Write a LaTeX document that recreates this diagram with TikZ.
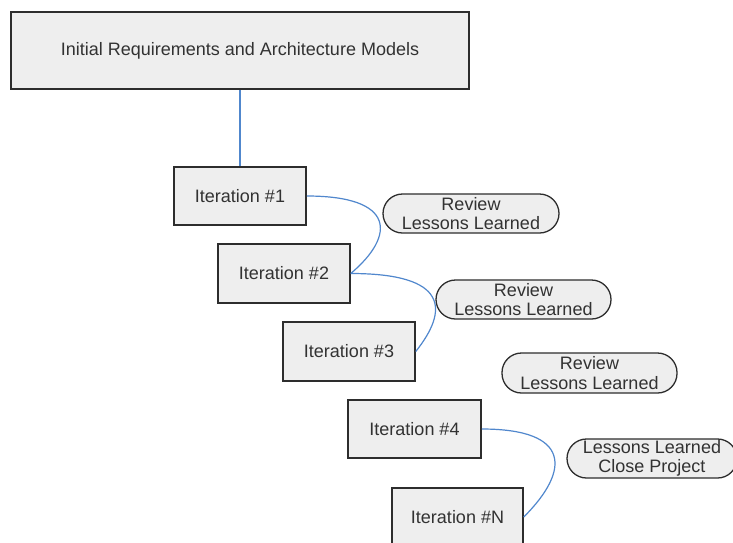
\documentclass[tikz,border=0pt]{standalone}
\usepackage{fontspec}
\setmainfont{Liberation Sans}
\definecolor{boxfill}{RGB}{238,238,238}
\definecolor{boxline}{RGB}{45,45,45}
\definecolor{linkblue}{RGB}{80,135,205}
\definecolor{txt}{RGB}{50,50,50}
\begin{document}
\begin{tikzpicture}[x=1pt,y=-1pt,
  every node/.style={font=\fontsize{18}{19.5}\selectfont, text=txt, inner sep=0pt, align=center},
  iterbox/.style={draw=boxline, fill=boxfill, line width=1.5pt, minimum width=132pt, minimum height=58pt},
  pill/.style={draw=boxline, fill=boxfill, line width=1.3pt, rounded corners=19.5pt, minimum width=176pt, minimum height=39pt},
  link/.style={draw=linkblue, line width=1.2pt}]
\useasboundingbox (0,0) rectangle (733,542);
\clip (0,0) rectangle (733,542);
\fill[white] (0,0) rectangle (733,542);
\node[draw=boxline, fill=boxfill, line width=2pt, minimum width=458pt, minimum height=77pt] (top) at (240,50.5) {Initial Requirements and Architecture Models};
\node[iterbox] (i1) at (240,196) {Iteration \#1};
\node[iterbox, minimum height=59pt] (i2) at (284,273.5) {Iteration \#2};
\node[iterbox, minimum height=59pt] (i3) at (349,351.5) {Iteration \#3};
\node[iterbox, minimum width=133pt] (i4) at (414.5,429) {Iteration \#4};
\node[iterbox, minimum width=131pt] (iN) at (457.5,517) {Iteration \#N};
\node[pill] (r1) at (471,213.5) {Review\\Lessons Learned};
\node[pill, minimum width=175pt] (r2) at (523.5,299.5) {Review\\Lessons Learned};
\node[pill, minimum width=175pt, minimum height=40pt] (r3) at (589.5,373) {Review\\Lessons Learned};
\node[pill, minimum width=170pt] (cp) at (652,458.5) {Lessons Learned\\Close Project};
\draw[link] (top.south) -- (i1.north);
\draw[link] (i1.east) .. controls +(89,0) and +(45,-38) .. (i2.east);
\draw[link] (i2.east) .. controls +(98,0) and +(33,-41.5) .. (i3.east);
\draw[link] (i4.east) .. controls +(89,0) and +(47,-47) .. (iN.east);
\end{tikzpicture}
\end{document}
